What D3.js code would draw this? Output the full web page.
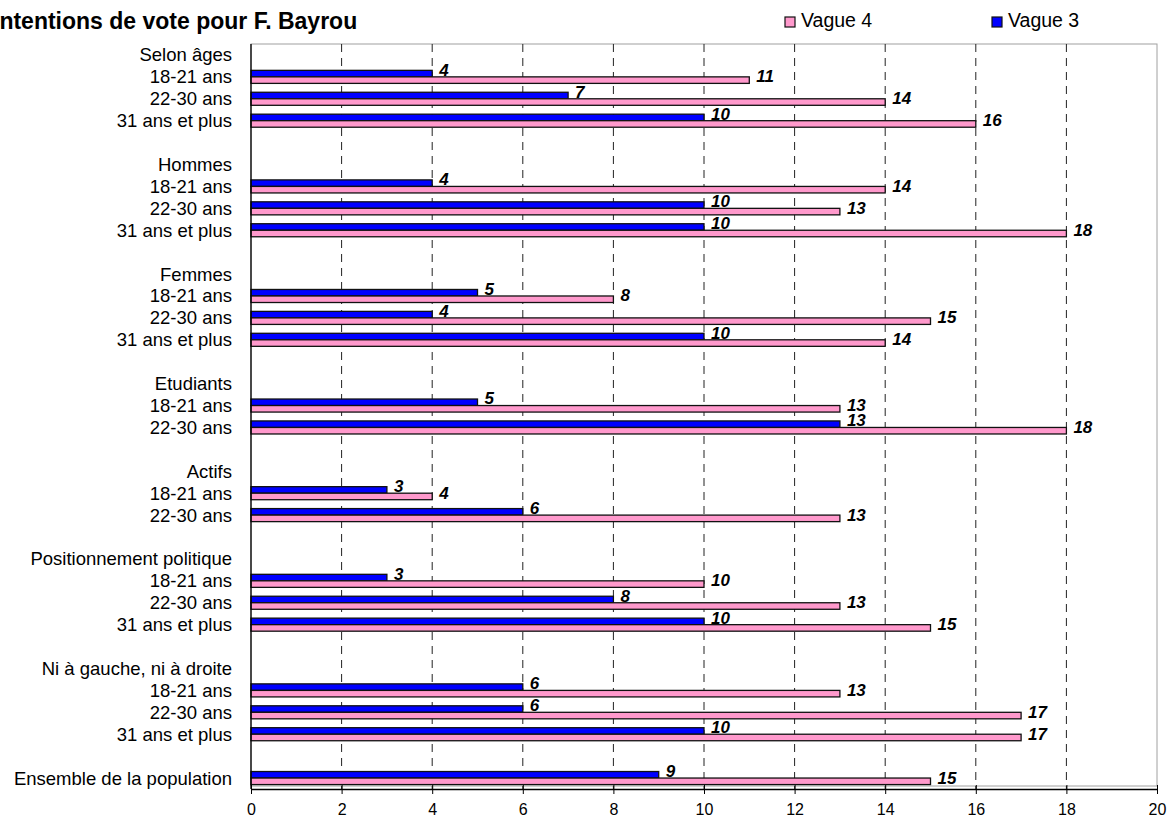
<!DOCTYPE html>
<meta charset="utf-8">
<script src="https://d3js.org/d3.v7.min.js"></script>
<style>
  body { margin: 0; background: #fff; overflow: hidden; }
  text { font-family: Arial, "Liberation Sans", sans-serif; }
</style>
<div id="chart"></div>
<script>

// rows from top to bottom, blank labels are spacer rows
var labels = [
  "Selon âges", "18-21 ans", "22-30 ans", "31 ans et plus", "",
  "Hommes", "18-21 ans", "22-30 ans", "31 ans et plus", "",
  "Femmes", "18-21 ans", "22-30 ans", "31 ans et plus", "",
  "Etudiants", "18-21 ans", "22-30 ans", "",
  "Actifs", "18-21 ans", "22-30 ans", "",
  "Positionnement politique", "18-21 ans", "22-30 ans", "31 ans et plus", "",
  "Ni à gauche, ni à droite", "18-21 ans", "22-30 ans", "31 ans et plus", "",
  "Ensemble de la population"
];
var vague3 = [
  null, 4, 7, 10, null,
  null, 4, 10, 10, null,
  null, 5, 4, 10, null,
  null, 5, 13, null,
  null, 3, 6, null,
  null, 3, 8, 10, null,
  null, 6, 6, 10, null,
  9
];
var vague4 = [
  null, 11, 14, 16, null,
  null, 14, 13, 18, null,
  null, 8, 15, 14, null,
  null, 13, 18, null,
  null, 4, 13, null,
  null, 10, 13, 15, null,
  null, 13, 17, 17, null,
  15
];
var seriesNames = ["Vague 3", "Vague 4"];
var seriesColors = ["#0000ff", "#ff99cc"];
var xTicks = [0, 2, 4, 6, 8, 10, 12, 14, 16, 18, 20];

var W = 1169, H = 819;
var plot = {left: 251, right: 1157, top: 44, bottom: 789};

var svg = d3.select("#chart").append("svg")
  .attr("width", W)
  .attr("height", H)
  .style("display", "block");

var x = d3.scaleLinear().domain([0, 20]).range([plot.left, plot.right]);
var y = d3.scaleBand().domain(d3.range(labels.length)).range([plot.top, plot.bottom]);
var ySub = d3.scaleBand().domain(seriesNames).range([0, y.bandwidth()])
  .paddingInner(0).paddingOuter(0.68);

// plot border
svg.append("rect")
  .attr("x", plot.left).attr("y", plot.top)
  .attr("width", plot.right - plot.left).attr("height", plot.bottom - 3 - plot.top)
  .attr("fill", "none").attr("stroke", "#a0a0a0").attr("stroke-width", 1);

// dashed gridlines
svg.append("g").selectAll("line")
  .data(xTicks.filter(function(d) { return d > 0 && d < 20; }))
  .join("line")
    .attr("x1", function(d) { return x(d); })
    .attr("x2", function(d) { return x(d); })
    .attr("y1", plot.top)
    .attr("y2", plot.bottom)
    .attr("stroke", "#222")
    .attr("stroke-width", 1)
    .attr("stroke-dasharray", "8,6");

// bars
var barData = [];
labels.forEach(function(l, i) {
  [vague3[i], vague4[i]].forEach(function(v, k) {
    if (v != null) barData.push({i: i, k: k, v: v});
  });
});

svg.append("g").selectAll("rect")
  .data(barData)
  .join("rect")
    .attr("x", x(0))
    .attr("y", function(d) { return y(d.i) + ySub(seriesNames[d.k]); })
    .attr("width", function(d) { return x(d.v) - x(0); })
    .attr("height", ySub.bandwidth())
    .attr("fill", function(d) { return seriesColors[d.k]; })
    .attr("stroke", "#111")
    .attr("stroke-width", 1.3);

// value labels
svg.append("g").selectAll("text")
  .data(barData)
  .join("text")
    .attr("x", function(d) { return x(d.v) + 7; })
    .attr("y", function(d) { return y(d.i) + ySub(seriesNames[d.k]) + ySub.bandwidth() / 2 - 3.3; })
    .attr("dominant-baseline", "central")
    .style("font-size", "17px")
    .style("font-weight", "bold")
    .style("font-style", "italic")
    .text(function(d) { return d.v; });

// category labels
svg.append("g").selectAll("text")
  .data(labels)
  .join("text")
    .attr("x", 232)
    .attr("y", function(d, i) { return y(i) + y.bandwidth() / 2; })
    .attr("text-anchor", "end")
    .attr("dominant-baseline", "central")
    .style("font-size", "18.5px")
    .text(function(d) { return d; });

// left axis line
svg.append("line")
  .attr("x1", plot.left).attr("x2", plot.left)
  .attr("y1", plot.top).attr("y2", plot.bottom)
  .attr("stroke", "#000").attr("stroke-width", 1.3);

// bottom axis
var xAxis = svg.append("g")
  .attr("transform", "translate(0," + plot.bottom + ")")
  .call(d3.axisBottom(x).tickValues(xTicks).tickSize(5).tickPadding(10).tickSizeOuter(0));
xAxis.select(".domain").attr("stroke", "#000").attr("stroke-width", 1.3);
xAxis.selectAll(".tick line").attr("stroke", "#000").attr("y1", -4);
xAxis.selectAll("text")
  .style("font-size", "16px")
  .style("font-family", "Arial, 'Liberation Sans', sans-serif")
  .attr("fill", "#000");

// title (cut at the left edge, as in the original)
svg.append("text")
  .attr("x", -7)
  .attr("y", 29)
  .style("font-size", "23px")
  .style("font-weight", "bold")
  .text("Intentions de vote pour F. Bayrou");

// legend
var legendItems = [
  {name: "Vague 4", color: seriesColors[1], x: 785},
  {name: "Vague 3", color: seriesColors[0], x: 992}
];
var lg = svg.append("g").selectAll("g")
  .data(legendItems)
  .join("g")
    .attr("transform", function(d) { return "translate(" + d.x + ",17)"; });
lg.append("rect")
  .attr("width", 10).attr("height", 10)
  .attr("fill", function(d) { return d.color; })
  .attr("stroke", "#111").attr("stroke-width", 1.2);
lg.append("text")
  .attr("x", 16)
  .attr("y", 10)
  .style("font-size", "19.5px")
  .text(function(d) { return d.name; });

</script>
